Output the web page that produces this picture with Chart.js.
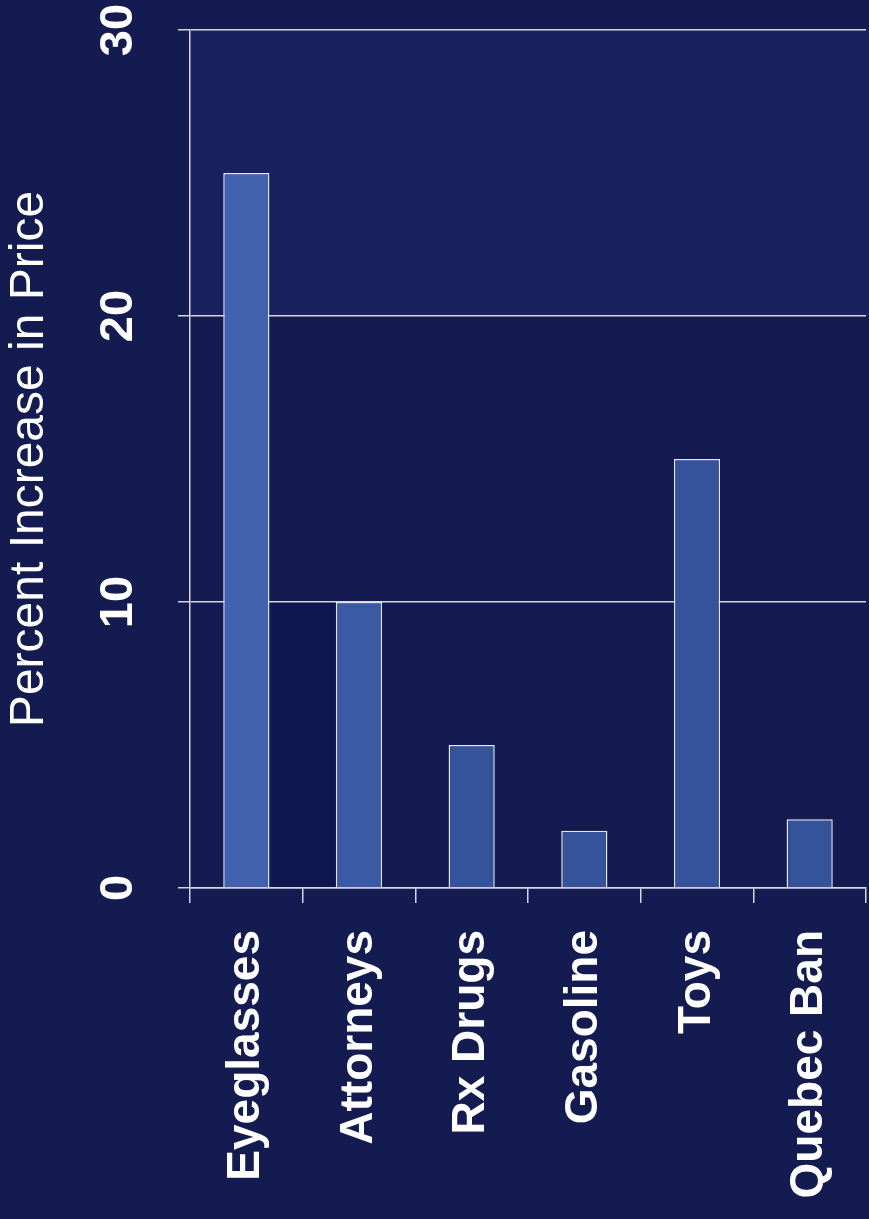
<!DOCTYPE html>
<html>
<head>
<meta charset="utf-8">
<script src="https://cdn.jsdelivr.net/npm/chart.js@4/dist/chart.umd.min.js"></script>
<style>
  html, body { margin: 0; padding: 0; background: #141b50; }
  #wrap { width: 869px; height: 1219px; position: relative; }
</style>
</head>
<body>
<div id="wrap"><canvas id="c"></canvas></div>
<script>
// ---- data ----
const categories = ['Eyeglasses', 'Attorneys', 'Rx Drugs', 'Gasoline', 'Toys', 'Quebec Ban'];
const percentIncrease = [25, 10, 5, 2, 15, 2.4];
const yTicks = [0, 10, 20, 30];
const axisTitle = 'Percent Increase in Price';
// shaded background regions, in category-index / value units
const shadeX0 = [-0.5, 0.23];
const shadeX1 = [5.5, 0.78];
const shadeY0 = [20, 0];
const shadeY1 = [30, 10];

// ---- styles ----
const barColors = ['#4262b0', '#3b5aa6', '#34539a', '#34539a', '#34539a', '#34539a'];
const shadeColors = ['#19225f', '#0e1650'];
const lineColor = '#d4d6de';

const shadePlugin = {
  id: 'shade',
  beforeDraw(chart) {
    const ctx = chart.ctx;
    ctx.save();
    ctx.fillStyle = '#141b50';
    ctx.fillRect(0, 0, chart.width, chart.height);
    const xs = chart.scales.x, ys = chart.scales.y;
    for (let i = 0; i < shadeX0.length; i++) {
      let x0 = xs.getPixelForValue(shadeX0[i]);
      let x1 = xs.getPixelForValue(shadeX1[i]);
      if (shadeX1[i] >= categories.length - 0.5) x1 = chart.width;
      const y0 = ys.getPixelForValue(shadeY1[i]);
      const y1 = ys.getPixelForValue(shadeY0[i]);
      ctx.fillStyle = shadeColors[i];
      ctx.fillRect(x0, y0, x1 - x0, y1 - y0);
    }
    ctx.restore();
  }
};

new Chart(document.getElementById('c'), {
  type: 'bar',
  data: {
    labels: categories,
    datasets: [{
      data: percentIncrease,
      backgroundColor: barColors,
      borderColor: '#e4e6ee',
      borderWidth: 1.5,
      categoryPercentage: 1,
      barPercentage: 0.41
    }]
  },
  options: {
    responsive: true,
    maintainAspectRatio: false,
    animation: false,
    layout: { padding: { top: 30, right: 3, left: 0, bottom: 0 } },
    plugins: { legend: { display: false }, tooltip: { enabled: false } },
    scales: {
      x: {
        grid: { display: true, drawOnChartArea: false, drawTicks: true, tickLength: 15, color: lineColor, lineWidth: 1.5, offset: true },
        border: { display: true, color: lineColor, width: 1.5 },
        ticks: {
          color: '#ffffff',
          font: { family: '"Liberation Sans", Arial, sans-serif', size: 46, weight: 'bold' },
          minRotation: 90, maxRotation: 90, padding: 27, autoSkip: false
        },
        afterFit(scale) { scale.height = 331; scale.paddingLeft = 0; scale.paddingRight = 0; }
      },
      y: {
        min: 0, max: 30,
        afterBuildTicks(scale) { scale.ticks = yTicks.map(v => ({ value: v })); },
        grid: { color: lineColor, lineWidth: 1.5, tickLength: 12, drawTicks: true },
        border: { display: true, color: lineColor, width: 1.5 },
        ticks: {
          color: '#ffffff',
          font: { family: '"Liberation Sans", Arial, sans-serif', size: 47, weight: 'bold' },
          minRotation: 90, maxRotation: 90, padding: 33, crossAlign: 'center'
        },
        title: {
          display: true, text: axisTitle, color: '#ffffff',
          font: { family: '"Liberation Sans", Arial, sans-serif', size: 48, weight: 'normal' },
          padding: { top: 1, bottom: 0 }
        },
        afterFit(scale) { scale.width = 190; scale.paddingTop = 0; scale.paddingBottom = 0; }
      }
    }
  },
  plugins: [shadePlugin]
});
</script>
</body>
</html>
